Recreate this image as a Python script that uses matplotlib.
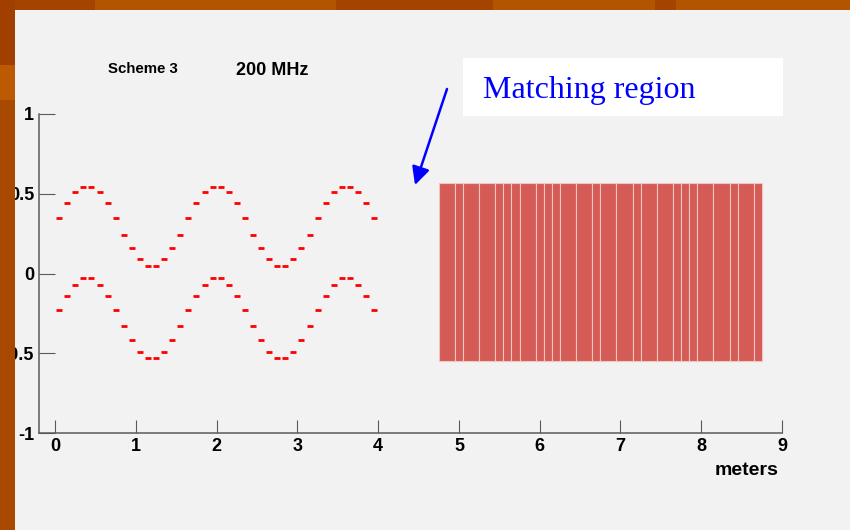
# Scheme 3, 200 MHz: two wave patterns and the matching region

import numpy as np
import matplotlib.pyplot as plt
from matplotlib.patches import Rectangle

# dash positions (meters) and values of the two waves
x_pos = [0.05, 0.15, 0.25, 0.35, 0.45, 0.55, 0.65, 0.75, 0.85, 0.95,
         1.05, 1.15, 1.25, 1.35, 1.45, 1.55, 1.65, 1.75, 1.85, 1.95,
         2.05, 2.15, 2.25, 2.35, 2.45, 2.55, 2.65, 2.75, 2.85, 2.95,
         3.05, 3.15, 3.25, 3.35, 3.45, 3.55, 3.65, 3.75, 3.85, 3.95]
upper_wave = [0.35, 0.44, 0.51, 0.54, 0.54, 0.51, 0.44, 0.35, 0.24, 0.16,
              0.09, 0.05, 0.05, 0.09, 0.16, 0.24, 0.35, 0.44, 0.51, 0.54,
              0.54, 0.51, 0.44, 0.35, 0.24, 0.16, 0.09, 0.05, 0.05, 0.09,
              0.16, 0.24, 0.35, 0.44, 0.51, 0.54, 0.54, 0.51, 0.44, 0.35]
lower_wave = [-0.23, -0.14, -0.07, -0.03, -0.03, -0.07, -0.14, -0.23, -0.33, -0.42,
              -0.49, -0.53, -0.53, -0.49, -0.42, -0.33, -0.23, -0.14, -0.07, -0.03,
              -0.03, -0.07, -0.14, -0.23, -0.33, -0.42, -0.49, -0.53, -0.53, -0.49,
              -0.42, -0.33, -0.23, -0.14, -0.07, -0.03, -0.03, -0.07, -0.14, -0.23]

# matching region segments (meters)
region_start = 4.75
seg_widths = [0.2, 0.1, 0.2, 0.2, 0.1, 0.1, 0.1, 0.2, 0.1, 0.1, 0.1, 0.2, 0.2, 0.1,
              0.2, 0.2, 0.1, 0.2, 0.2, 0.1, 0.1, 0.1, 0.2, 0.2, 0.1, 0.2, 0.1]
region_top = 0.57
region_bottom = -0.55

x_ticks = [0, 1, 2, 3, 4, 5, 6, 7, 8, 9]
y_ticks = [-1, -0.5, 0, 0.5, 1]
y_labels = ['-1', '-0.5', '0', '0.5', '1']

fig = plt.figure(figsize=(8.5, 5.3), dpi=100)
fig.patch.set_facecolor('#b35400')

# slide background
fig.patches.append(Rectangle((15 / 850, 0), 1, 520 / 530, transform=fig.transFigure,
                             facecolor='#f2f2f2', edgecolor='none', zorder=-5))
# dark patches in the top border
for x0, x1 in [(0, 95), (336, 493), (655, 676)]:
    fig.patches.append(Rectangle((x0 / 850, 520 / 530), (x1 - x0) / 850, 10 / 530,
                                 transform=fig.transFigure, facecolor='#a54300',
                                 edgecolor='none', zorder=-4))
# left border (drawn over the axes so it hides part of the labels)
for y0, y1, c in [(0, 430, '#a94900'), (430, 465, '#bb5a00'), (465, 530, '#a13f00')]:
    fig.patches.append(Rectangle((0, y0 / 530), 15 / 850, (y1 - y0) / 530,
                                 transform=fig.transFigure, facecolor=c,
                                 edgecolor='none', zorder=10))

ax = fig.add_axes([39 / 850, 97 / 530, 743 / 850, 319 / 530])
ax.set_facecolor('none')

# waves drawn as short horizontal dashes
ax.plot(x_pos, upper_wave, linestyle='none', marker='_', markersize=4.6,
        markeredgewidth=2.0, color='#ff0000')
ax.plot(x_pos, lower_wave, linestyle='none', marker='_', markersize=4.6,
        markeredgewidth=2.0, color='#ff0000')

# matching region
lefts = region_start + np.concatenate([[0], np.cumsum(seg_widths)[:-1]])
ax.bar(lefts, region_top - region_bottom, width=seg_widths, bottom=region_bottom,
       align='edge', color='#d45b56', edgecolor='#f2c4c2', linewidth=0.8)

ax.set_xlim(-0.2, 9)
ax.set_ylim(-1, 1)
ax.set_xticks(x_ticks)
ax.set_yticks(y_ticks, y_labels)
for s in ['top', 'right']:
    ax.spines[s].set_visible(False)
for s in ['left', 'bottom']:
    ax.spines[s].set_color('#5a5a5a')
    ax.spines[s].set_linewidth(1.1)
ax.tick_params(axis='x', direction='in', length=9.4, width=0.8, color='#5a5a5a', pad=3.6)
ax.tick_params(axis='y', direction='in', length=11.5, width=0.8, color='#5a5a5a', pad=3.6)
for lab in ax.get_xticklabels() + ax.get_yticklabels():
    lab.set_family('Liberation Sans')
    lab.set_fontweight('bold')
    lab.set_fontsize(13)

ax.text((778 - 39) / 743, (433 - 475) / 319, 'meters', transform=ax.transAxes,
        ha='right', va='baseline', family='Liberation Sans', fontweight='bold', fontsize=14)

# titles
fig.text(108 / 850, 1 - 73 / 530, 'Scheme 3', family='Liberation Sans', fontweight='bold',
         fontsize=10.8, ha='left', va='baseline')
fig.text(236 / 850, 1 - 75 / 530, '200 MHz', family='Liberation Sans', fontweight='bold',
         fontsize=13, ha='left', va='baseline')

# annotation box and arrow
fig.patches.append(Rectangle((463 / 850, 1 - 116 / 530), 320 / 850, 58 / 530,
                             transform=fig.transFigure, facecolor='white',
                             edgecolor='none', zorder=1))
fig.text(483 / 850, 1 - 98 / 530, 'Matching region', family='Liberation Serif',
         fontsize=23, color='#0000ff', ha='left', va='baseline', zorder=2)
ax.annotate('', xy=(415 / 850, 1 - 185 / 530), xytext=(447 / 850, 1 - 89 / 530),
            xycoords='figure fraction', textcoords='figure fraction',
            arrowprops=dict(arrowstyle='-|>,head_length=0.4,head_width=0.2',
                            mutation_scale=27, color='#0000ff', lw=1.8,
                            shrinkA=0, shrinkB=0))

fig.savefig('out.png', dpi=100, facecolor=fig.get_facecolor())
